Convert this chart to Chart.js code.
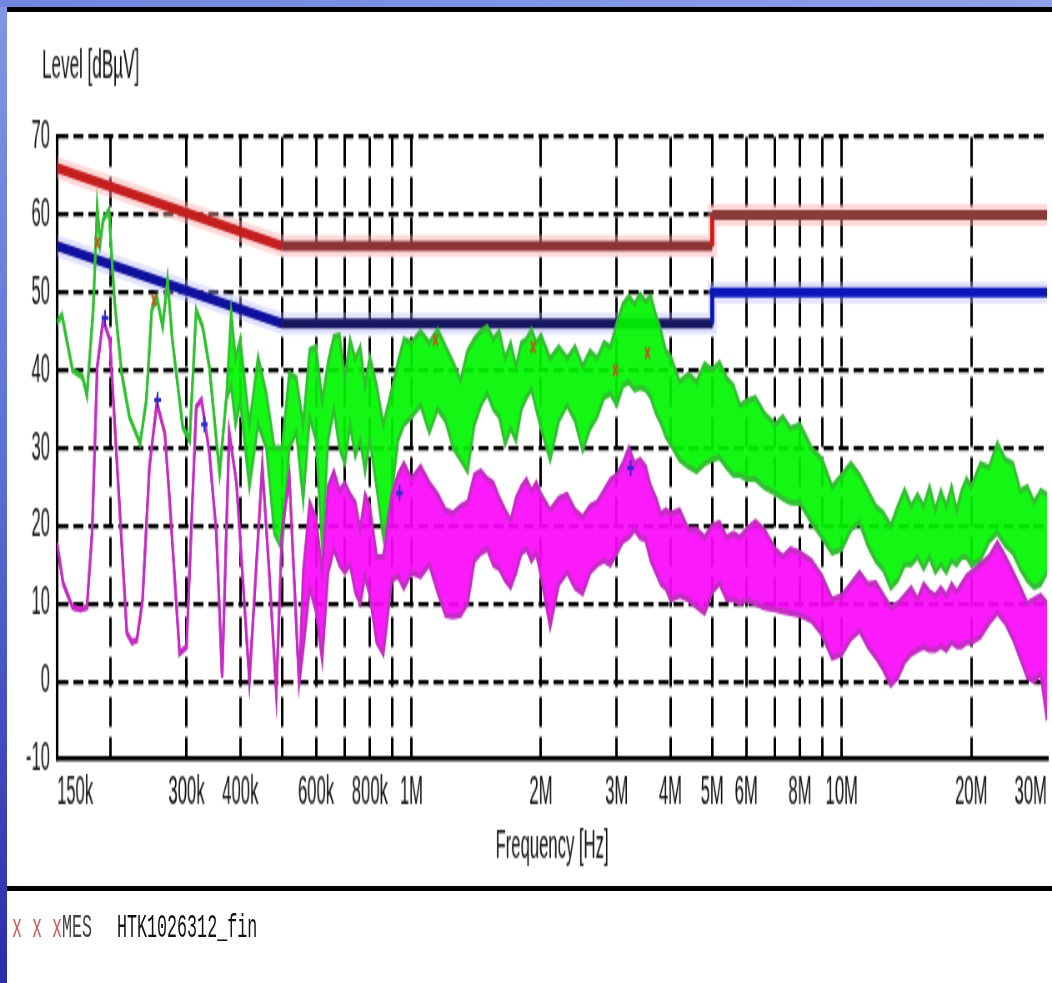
<!DOCTYPE html>
<html lang="en">
<head>
<meta charset="utf-8">
<title>Level [dBµV] vs Frequency [Hz]</title>
<script src="https://cdn.jsdelivr.net/npm/chart.js@4.4.1/dist/chart.umd.min.js"></script>
<style>
  html, body { margin: 0; padding: 0; background: #fff; }
  body { position: relative; width: 1052px; height: 983px; overflow: hidden; }
  #plot { position: absolute; left: 0; top: 0; }
  .frame-left { position: absolute; left: 0; top: 0; width: 7px; height: 983px;
    background: linear-gradient(180deg, #8296e4 0%, #5d72d8 45%, #2a2caa 100%); }
  .frame-top { position: absolute; left: 0; top: 0; width: 1052px; height: 7px;
    background: linear-gradient(90deg, #6f86de, #8fa2ea); }
  .rule { position: absolute; left: 7px; width: 1045px; background: #000; }
  .rule.top { top: 7px; height: 5px; }
  .rule.bottom { top: 886px; height: 5px; }
  .footer { position: absolute; top: 913px; font: 16.7px 'Liberation Mono', 'DejaVu Sans Mono', monospace;
    line-height: 16.7px; white-space: pre; transform: scaleY(2); transform-origin: 0 0; }
</style>
</head>
<body>
<!-- drawn on a 1262x492 surface and shown at 1052x984, which gives the tall, narrow lettering -->
<canvas id="plot" width="1262" height="492" style="width:1052px;height:984px"></canvas>
<div class="frame-left"></div>
<div class="frame-top"></div>
<div class="rule top"></div>
<div class="rule bottom"></div>
<div class="footer" style="left:12px"><span style="color:#d45a5a">x x x</span><span style="color:#444">MES</span></div>
<div class="footer" style="left:117px;color:#111">HTK1026312_fin</div>

<script>
// ---- axis definitions ----
const levelTitle = 'Level [dBµV]';
const freqTitle = 'Frequency [Hz]';
const freqGridHz = [150e3, 200e3, 300e3, 400e3, 500e3, 600e3, 700e3, 800e3, 900e3, 1e6,
  2e6, 3e6, 4e6, 5e6, 6e6, 7e6, 8e6, 9e6, 10e6, 20e6, 30e6];
const freqTickLabels = ['150k', '', '300k', '400k', '', '600k', '', '800k', '', '1M',
  '2M', '3M', '4M', '5M', '6M', '', '8M', '', '10M', '20M', '30M'];
const levelTicks = [-10, 0, 10, 20, 30, 40, 50, 60, 70];

// ---- limit lines (kHz / dBµV) ----
const limitKHz = [150, 500, 5000, 5000, 30000];
const qpLimit = [66, 56, 56, 60, 60];
const avLimit = [56, 46, 46, 50, 50];

// ---- shared sweep grid above 560 kHz ----
const sweepKHz = [560, 580, 600, 620, 640, 660, 680, 700, 720, 740, 760, 780, 800,
  830, 860, 900, 930, 960, 1000,
  1050, 1100, 1150, 1200, 1250, 1300, 1350, 1400, 1450, 1500, 1550, 1600, 1650, 1700, 1750, 1800, 1850, 1900, 1950, 2000,
  2100, 2200, 2300, 2400, 2500, 2600, 2700, 2800, 2900, 3000, 3100, 3200, 3300, 3400, 3500, 3600, 3700, 3800, 3900, 4000,
  4200, 4400, 4600, 4800, 5000, 5200, 5400, 5600, 5800, 6000,
  6300, 6600, 7000, 7300, 7600, 8000, 8500, 9000, 9500, 10000,
  10500, 11000, 11500, 12000, 12500, 13000, 13500, 14000, 14500, 15000, 15500, 16000, 16500, 17000, 17500, 18000, 18500, 19000, 19500, 20000,
  21000, 22000, 23000, 24000, 25000, 26000, 27000, 28000, 29000, 30000];

// ---- peak trace (green) ----
const peakLowKHz = [150, 154, 163, 172, 176, 182, 186, 189, 192, 198, 204, 212, 221, 234, 242, 249, 256, 264, 271, 278,
  294, 305, 316, 327, 339, 358, 371, 381, 390, 400, 420, 440, 460, 480, 500, 520, 540];
const peakLowUpper = [46.1, 47.1, 40.0, 39.1, 36.8, 47.7, 60.9, 56.4, 59.3, 60.6, 49.0, 39.6, 34.0, 30.6, 36.2, 47.7, 49.4, 45.6, 51.6, 43.9,
  32.7, 31.0, 47.7, 45.6, 40.4, 26.8, 36.2, 47.4, 41.5, 44.0, 33.0, 41.7, 37.0, 30.0, 30.0, 39.6, 39.0];
const peakLowLower = [46.1, 47.1, 40.0, 39.1, 36.8, 47.7, 60.9, 56.4, 59.3, 60.6, 49.0, 39.6, 34.0, 30.6, 36.2, 47.7, 49.4, 45.6, 51.6, 43.9,
  32.7, 31.0, 47.7, 45.6, 40.4, 26.8, 36.2, 38.0, 33.0, 36.0, 25.0, 33.0, 30.0, 19.0, 17.0, 30.0, 32.0];
const peakSweepUpper = [33, 42.6, 43, 36, 41, 44.3, 44.5, 39, 43.9, 41.5, 43, 38, 41.7,
  38, 33, 37.5, 41, 44, 43.5,
  45, 43.5, 45.2, 43, 41, 38.7, 42.5, 44, 45, 45.6, 44, 45, 41.5, 43.5, 40.5, 43.5, 44, 45.2, 43.5, 44.5,
  41.5, 43, 41.5, 43, 40.5, 42.5, 41.5, 43.5, 43, 46, 48.5, 49.5, 48.5, 49.8, 48.8, 49.5, 47, 45, 42.5, 41.8,
  38.5, 39.5, 38.5, 40.8, 40, 41, 39, 38, 35.5, 36,
  36.5, 34.5, 33, 34, 32.5, 33, 30, 28.5, 25, 26.5,
  28, 26.5, 24.5, 22.5, 21.6, 20, 22.5, 24.6, 22.5, 24, 22.5, 25, 22, 24.5, 22.5, 25, 22, 24.5, 26, 25,
  28, 27.5, 30.6, 28.5, 28, 24.5, 25, 23, 24.5, 24];
const peakSweepLower = [23.3, 34, 31, 17.3, 31, 35, 30, 28, 33, 29, 31, 27, 31,
  25, 18.5, 24, 31, 33, 34,
  35.5, 32, 35, 33.5, 30, 28.5, 27, 33, 35.5, 37, 35, 34, 30.5, 32.5, 31, 35, 36.5, 37.5, 35, 32.5,
  28.5, 33.5, 35.5, 33.5, 29.7, 32.5, 34, 36.5, 37, 35.5, 38, 38.5, 37.5, 37.8, 37.5, 36.5, 34.5, 33.2, 31.5, 30.5,
  28.5, 27.6, 27, 28, 28.5, 28.8, 27.5, 26.5, 26.5, 26,
  26, 25, 24.2, 23.5, 23, 22.9, 20.5, 18.5, 16.5, 17,
  19.5, 20.5, 17.5, 15.5, 14.3, 12, 13, 15, 15, 16, 14.5, 16, 14, 15, 14, 15.5, 15, 16, 16, 15,
  15.6, 18, 19.1, 17.5, 16.5, 14.5, 13, 12.1, 12.5, 14];

// ---- average trace (magenta) ----
const avgLowKHz = [150, 155, 163, 170, 176, 181, 186, 192, 199, 207, 218, 224, 230, 237, 246, 256, 267, 274, 289, 300,
  316, 325, 339, 352, 363, 377, 392, 420, 450, 467, 485, 500, 520, 548];
const avgLowLevel = [17.8, 12.6, 9.5, 9.2, 9.5, 19.1, 40.4, 46.5, 43.9, 27.6, 6.2, 5.0, 5.3, 10.4, 27.6, 35.8, 31.9, 23.3, 3.6, 4.4,
  35.3, 36.2, 29.4, 19.0, 0.5, 32.0, 25.5, 0.1, 27.6, 14.0, -1.5, 19.1, 26.3, -0.3];
const avgSweepUpper = [14, 23, 21, 14, 25, 27, 24.5, 25.5, 24, 23, 19.5, 24, 22.5,
  16, 16, 24, 26.5, 28, 26,
  27.6, 25.5, 24, 22, 21.6, 22.5, 23, 26.5, 27, 26, 25.5, 23.5, 22, 20.7, 23.5, 25, 25.9, 24.5, 25.5, 24,
  22, 23.5, 24, 22, 21.1, 22.5, 23, 24.5, 25.9, 26.5, 28, 30, 28, 28.5, 27.6, 25, 23.5, 21.5, 22, 21.5,
  22, 19.5, 19.5, 18.5, 20, 20.4, 18.5, 19, 18.5, 19.5,
  20.5, 19.5, 17, 16, 17, 16.5, 15.5, 13.5, 10.5, 11,
  12.5, 14, 12.5, 12.6, 11, 9.5, 10, 11, 12, 10.5, 12.5, 11.5, 11, 12, 11, 12.5, 11.5, 12.5, 13.5, 14,
  15, 16, 17.8, 16, 14, 12, 10, 10.5, 11, 10];
const avgSweepLower = [4, 12, 9, 2.7, 14, 17, 15, 14, 15, 11.5, 10, 13.5, 11,
  5, 3.5, 13, 13.5, 12, 14,
  13.5, 15, 11.5, 8.5, 8.3, 8.5, 10, 15.5, 16.5, 17, 15, 14.5, 13, 12.1, 14, 16.5, 17, 15.5, 16.5, 13.5,
  7, 12.5, 14, 12, 11.3, 14, 15, 15.5, 15, 16.5, 18, 18.5, 19.5, 18.5, 18.2, 15.5, 14, 12.5, 12, 10.5,
  11, 10.5, 9.6, 8.8, 11.5, 12.6, 10.5, 10.5, 10, 10.5,
  10, 9.5, 9.2, 9, 8.8, 8.5, 7.8, 6, 3, 3.5,
  5.5, 6.5, 4.5, 3.1, 1.5, -0.5, 0.5, 2.5, 3.5, 4, 4.4, 4, 4, 4.5, 4, 5, 4.5, 4.5, 5, 5,
  5.7, 7.5, 8.8, 7.5, 5.5, 3, 0.5, 0, 1, -5];

// ---- final measurement markers ----
const qpMarkKHz = [186, 252, 1137, 1916, 2980, 3537];
const qpMarkLevel = [56.4, 49.0, 43.9, 43.0, 40.0, 42.2];
const avMarkKHz = [194, 257, 330, 938, 3231];
const avMarkLevel = [46.7, 36.2, 33.0, 24.2, 27.4];

// ---- styling ----
const family = "'Liberation Sans', Arial, sans-serif";
const qpSegmentColors = ['#c41e1e', '#8a3434', '#d01a1a', '#8b3a3a'];
const avSegmentColors = ['#10109e', '#17175f', '#0b16b6', '#0b16b6'];
const clear = 'rgba(0,0,0,0)';
const sx = 1262 / 1052;   // horizontal drawing-surface units per screen pixel

const toPoints = (khz, level) => khz.map((f, i) => ({ x: f * 1000, y: level[i] }));

const peakKHz = peakLowKHz.concat(sweepKHz);
const avgKHz = avgLowKHz.concat(sweepKHz);

Chart.defaults.font.family = family;
Chart.defaults.color = '#111';

const levelCaption = {
  id: 'levelCaption',
  afterDraw(chart) {
    const c = chart.ctx;
    c.save();
    c.font = '20.5px ' + family;
    c.fillStyle = '#111';
    c.textBaseline = 'alphabetic';
    c.fillText(levelTitle, 42 * sx, 38.5);
    c.restore();
  }
};

// datasets earlier in the list are painted on top
new Chart(document.getElementById('plot'), {
  type: 'line',
  data: {
    datasets: [
      { label: 'QP final', data: toPoints(qpMarkKHz, qpMarkLevel), showLine: false,
        pointStyle: 'crossRot', pointRadius: 4, pointBorderWidth: 2,
        borderColor: '#b0601e', pointBorderColor: '#b0601e' },
      { label: 'AV final', data: toPoints(avMarkKHz, avMarkLevel), showLine: false,
        pointStyle: 'cross', pointRadius: 4, pointBorderWidth: 2,
        borderColor: '#2a2ac8', pointBorderColor: '#2a2ac8' },
      { label: 'AV upper', data: toPoints(avgKHz, avgLowLevel.concat(avgSweepUpper)),
        borderColor: '#c42cc4', borderWidth: 3, pointRadius: 0, fill: false },
      { label: 'AV lower', data: toPoints(avgKHz, avgLowLevel.concat(avgSweepLower)),
        borderColor: '#c42cc4', borderWidth: 3, pointRadius: 0, fill: '-1', backgroundColor: 'rgba(250,6,250,0.92)' },
      { label: 'PK upper', data: toPoints(peakKHz, peakLowUpper.concat(peakSweepUpper)),
        borderColor: '#30c030', borderWidth: 3, pointRadius: 0, fill: false },
      { label: 'PK lower', data: toPoints(peakKHz, peakLowLower.concat(peakSweepLower)),
        borderColor: '#30c030', borderWidth: 3, pointRadius: 0, fill: '-1', backgroundColor: 'rgba(0,245,0,0.92)' },
      { label: 'QP limit', data: toPoints(limitKHz, qpLimit), borderWidth: 5, pointRadius: 0,
        borderColor: '#8a3434', borderJoinStyle: 'miter',
        segment: { borderColor: c => qpSegmentColors[c.p0DataIndex] } },
      { label: 'AV limit', data: toPoints(limitKHz, avLimit), borderWidth: 5, pointRadius: 0,
        borderColor: '#17175f', borderJoinStyle: 'miter',
        segment: { borderColor: c => avSegmentColors[c.p0DataIndex] } },
      { label: 'QP limit glow', data: toPoints(limitKHz, qpLimit), borderWidth: 11, pointRadius: 0,
        borderColor: 'rgba(255,170,170,0.45)' },
      { label: 'AV limit glow', data: toPoints(limitKHz, avLimit), borderWidth: 11, pointRadius: 0,
        borderColor: 'rgba(185,185,255,0.4)' }
    ]
  },
  options: {
    responsive: false,
    animation: false,
    devicePixelRatio: 1,
    events: [],
    layout: { padding: { left: 0, right: 1262 - 1051 * sx, top: 68.5, bottom: 57 } },
    elements: { line: { tension: 0 }, point: { radius: 0 } },
    plugins: { legend: { display: false }, tooltip: { enabled: false }, title: { display: false } },
    scales: {
      x: {
        type: 'logarithmic',
        min: 150e3,
        max: 30e6,
        afterBuildTicks: s => { s.ticks = freqGridHz.map(v => ({ value: v })); },
        afterFit: s => { s.height = 55.5; },
        ticks: {
          autoSkip: false, maxRotation: 0, minRotation: 0, align: 'inner', padding: 4.5,
          font: { size: 20 }, color: '#111',
          callback: (v, i) => freqTickLabels[i]
        },
        grid: {
          drawTicks: false, lineWidth: 3,
          color: c => (c.index === 0 || c.index === freqGridHz.length - 1) ? clear : '#000'
        },
        border: { display: true, color: '#000', width: 2.5, dash: [15, 5] },
        title: { display: true, text: freqTitle, font: { size: 20 }, color: '#111', padding: { top: 0, bottom: 0 } }
      },
      y: {
        type: 'linear',
        min: -10,
        max: 70,
        afterBuildTicks: s => { s.ticks = levelTicks.map(v => ({ value: v })); },
        afterFit: s => { s.width = 57 * sx; },
        ticks: { padding: 7 * sx, font: { size: 20 }, color: '#111', callback: v => String(v) },
        grid: {
          drawTicks: false, lineWidth: 2.2,
          color: c => c.index === 0 ? clear : '#000'
        },
        border: { display: true, color: '#000', width: 3, dash: [12, 6] }
      }
    }
  },
  plugins: [levelCaption]
});
</script>
</body>
</html>
